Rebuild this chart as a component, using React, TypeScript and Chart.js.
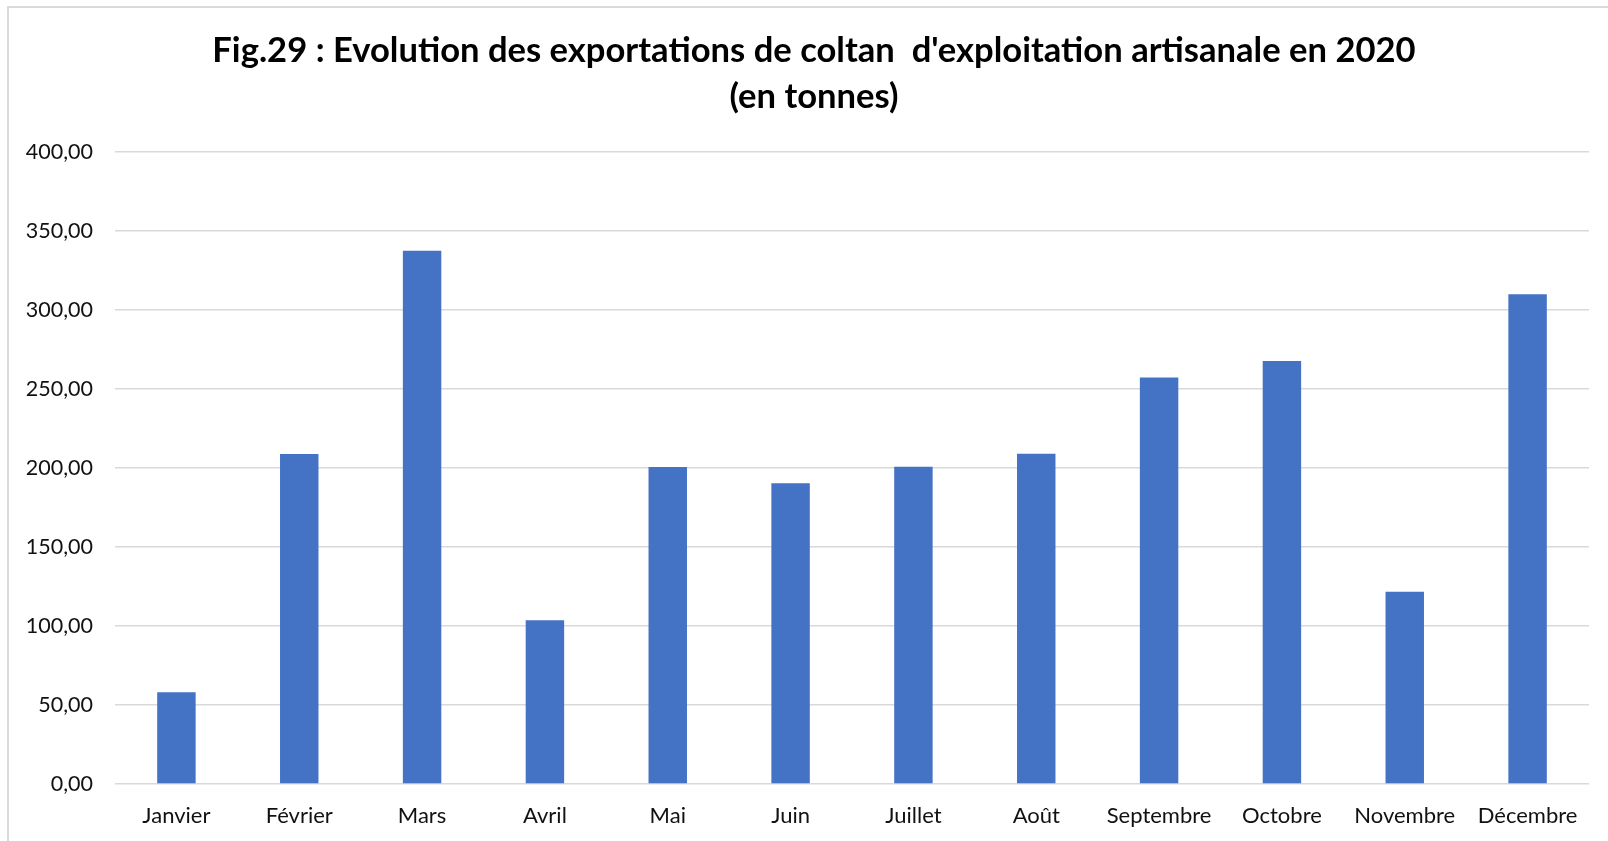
import React, { useEffect, useRef } from "react";
import { Chart, registerables } from "chart.js";

Chart.register(...registerables);

const titleLines = [
  "Fig.29 : Evolution des exportations de coltan  d'exploitation artisanale en 2020",
  "(en tonnes)",
];
const months = [
  "Janvier",
  "Février",
  "Mars",
  "Avril",
  "Mai",
  "Juin",
  "Juillet",
  "Août",
  "Septembre",
  "Octobre",
  "Novembre",
  "Décembre",
];
const exportsTonnes = [58.0, 208.8, 337.5, 103.6, 200.6, 190.3, 200.8, 209.0, 257.2, 267.7, 121.7, 309.9];
const yMin = 0;
const yMax = 400;
const yStep = 50;

const framePlugin = {
  id: "frame",
  beforeDraw(chart: any) {
    const { ctx, width, height } = chart;
    ctx.save();
    ctx.fillStyle = "#ffffff";
    ctx.fillRect(0, 0, width, height);
    ctx.strokeStyle = "#d9d9d9";
    ctx.lineWidth = 2;
    ctx.beginPath();
    ctx.moveTo(8, height);
    ctx.lineTo(8, 7);
    ctx.lineTo(width, 7);
    ctx.stroke();
    ctx.restore();
  },
  afterDraw(chart: any) {
    const { ctx } = chart;
    ctx.save();
    ctx.fillStyle = "#000000";
    ctx.font = "bold 34.6px Lato";
    ctx.textAlign = "center";
    ctx.textBaseline = "middle";
    titleLines.forEach((line, i) => {
      ctx.fillText(line, 814, 51 + i * 46);
    });
    ctx.restore();
  },
};

export default function App() {
  const ref = useRef<HTMLCanvasElement | null>(null);

  useEffect(() => {
    if (!ref.current) return;
    const chart = new Chart(ref.current, {
      type: "bar",
      data: {
        labels: months,
        datasets: [
          {
            label: "Exportations",
            data: exportsTonnes,
            backgroundColor: "#4472C4",
            borderWidth: 0,
            categoryPercentage: 1,
            barPercentage: 0.313,
          },
        ],
      },
      options: {
        responsive: false,
        animation: false,
        layout: { padding: { left: 20, right: 19, top: 152, bottom: 13 } },
        plugins: {
          legend: { display: false },
          tooltip: { enabled: false },
          title: { display: false },
        },
        scales: {
          x: {
            afterFit(scale: any) {
              scale.height = 44;
            },
            grid: { display: false, drawTicks: false },
            border: { display: false },
            ticks: {
              color: "#111111",
              font: { family: "Lato", size: 22 },
              padding: 19,
              maxRotation: 0,
              autoSkip: false,
            },
          },
          y: {
            min: yMin,
            max: yMax,
            afterFit(scale: any) {
              scale.width = 95;
            },
            grid: { color: "#d9d9d9", lineWidth: 1.5, drawTicks: false },
            border: { display: false },
            ticks: {
              stepSize: yStep,
              color: "#111111",
              font: { family: "Lato", size: 21.5 },
              padding: 22,
              callback: (v: any) => Number(v).toFixed(2).replace(".", ","),
            },
          },
        },
      },
      plugins: [framePlugin],
    });
    return () => chart.destroy();
  }, []);

  return (
    <div style={{ position: "fixed", left: 0, top: 0, width: 1608, height: 841, background: "#fff" }}>
      <canvas ref={ref} width={1608} height={841} style={{ display: "block" }} />
    </div>
  );
}
